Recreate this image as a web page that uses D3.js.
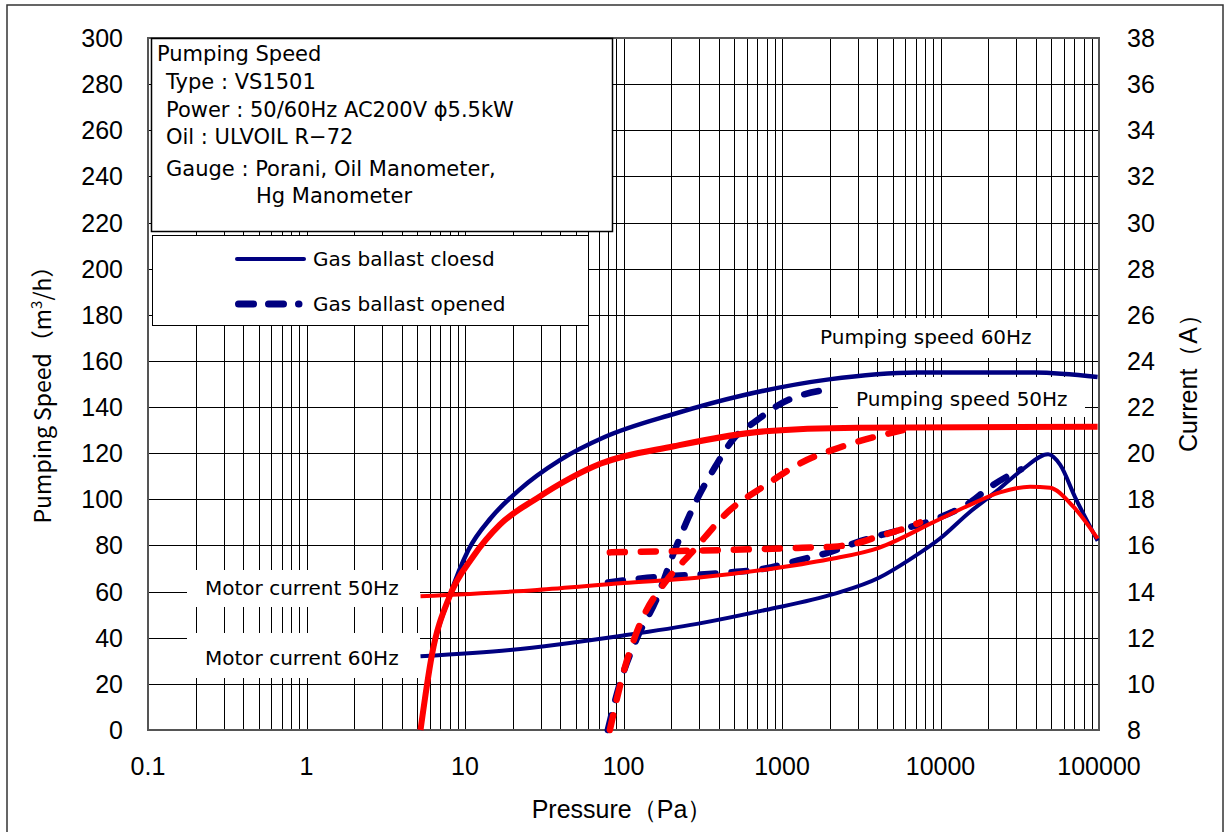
<!DOCTYPE html>
<html lang="en">
<head>
  <meta charset="UTF-8">
  <title>VS1501 Pumping Speed</title>
  <style>
    body { margin: 0; background: #fff; }
    svg { display: block; }
    .tick { font-family: "Liberation Sans", Arial, sans-serif; font-size: 25px; fill: #000; }
    .jp { font-family: "Noto Sans CJK JP", "Noto Sans", sans-serif; fill: #000; }
    .lbl { font-family: "DejaVu Sans", sans-serif; fill: #000; }
  </style>
</head>
<body>
  <script src="https://cdnjs.cloudflare.com/ajax/libs/d3/7.8.5/d3.min.js"></script>
  <svg></svg>
  <script>
    var width = 1229, height = 832;
    var plot = {left: 148, right: 1099, top: 38, bottom: 730};

    // tick labels
    var pressureTicks = [0.1, 1, 10, 100, 1000, 10000, 100000];
    var speedTicks = d3.range(0, 301, 20);
    var currentTicks = d3.range(8, 39, 2);

    // [pressure Pa, pumping speed m3/h]
    var speed60Closed = [[5.24, 0], [6.2, 33], [8.0, 58], [10.5, 78], [14.6, 92], [21.9, 104], [39.7, 117],
      [76, 127], [208, 137], [560, 145], [1980, 152], [7000, 155], [39400, 155], [98000, 153]];
    var speed50Closed = [[5.24, 0], [6.2, 33], [8.0, 58], [11.2, 75], [16.6, 89], [28.5, 100.5], [72, 115.5],
      [208, 123], [782, 129.5], [2970, 131], [98000, 131.5]];
    var speed60Opened = [[79.6, 0], [93.8, 19], [122, 40], [160, 56], [208, 77], [291, 100], [378, 114],
      [491, 126], [686, 134], [957, 141], [2100, 148]];
    var speed50Opened = [[82, 0], [100, 25], [131, 48], [183, 64], [270, 77], [463, 95], [782, 106],
      [1337, 116], [2430, 123], [5800, 130]];

    // [pressure Pa, motor current A]
    var current60Closed = [[5.24, 11.2], [19.2, 11.47], [100, 12.1], [291, 12.6], [782, 13.2], [2130, 13.9],
      [4090, 14.6], [6420, 15.4], [9930, 16.3], [15000, 17.4], [23000, 18.4], [33000, 19.3], [47700, 19.95],
      [56800, 19.5], [70600, 18.1], [98000, 16.2]];
    var current50Closed = [[5.24, 13.8], [28.5, 14.07], [100, 14.37], [291, 14.6], [782, 14.95], [1980, 15.4],
      [4090, 15.9], [8970, 17.0], [14700, 17.7], [23700, 18.3], [36700, 18.55], [49100, 18.5], [68500, 17.7],
      [98000, 16.3]];
    var current60Opened = [[79.8, 14.4], [141, 14.6], [406, 14.8], [782, 15.0], [1337, 15.4], [1980, 15.7],
      [3150, 16.2], [5710, 16.7], [9790, 17.2], [15600, 17.9], [20200, 18.5], [28200, 19.1], [32200, 19.3]];
    var current50Opened = [[82, 15.7], [406, 15.8], [1337, 15.9], [2130, 15.95], [2970, 16.1], [4090, 16.4],
      [5710, 16.7], [7430, 17.0]];

    var navy = '#000080', red = '#ff0000';

    var svg = d3.select('svg').attr('width', width).attr('height', height);

    // outer frame
    svg.append('rect')
      .attr('x', 7).attr('y', 5).attr('width', 1216).attr('height', 840)
      .attr('fill', 'none').attr('stroke', '#333').attr('stroke-width', 1.5);

    var x = d3.scaleLog().domain([0.1, 100000]).range([plot.left, plot.right]);
    var yS = d3.scaleLinear().domain([0, 300]).range([plot.bottom, plot.top]);
    var yC = d3.scaleLinear().domain([8, 38]).range([plot.bottom, plot.top]);

    // grid
    var grid = svg.append('g').attr('stroke', '#000').attr('stroke-width', 1).attr('shape-rendering', 'crispEdges');
    var vLines = [];
    pressureTicks.forEach(function(d) {
      vLines.push(d);
      if (d < 100000) for (var k = 2; k <= 9; k++) vLines.push(d * k);
    });
    grid.selectAll('line.v').data(vLines).enter().append('line')
      .attr('x1', function(d) { return Math.round(x(d)) + 0.5; })
      .attr('x2', function(d) { return Math.round(x(d)) + 0.5; })
      .attr('y1', plot.top).attr('y2', plot.bottom);
    grid.selectAll('line.h').data(speedTicks).enter().append('line')
      .attr('x1', plot.left).attr('x2', plot.right)
      .attr('y1', function(d) { return Math.round(yS(d)) + 0.5; })
      .attr('y2', function(d) { return Math.round(yS(d)) + 0.5; });

    svg.append('rect')
      .attr('x', plot.left).attr('y', plot.top)
      .attr('width', plot.right - plot.left).attr('height', plot.bottom - plot.top)
      .attr('fill', 'none').attr('stroke', '#555').attr('stroke-width', 2);

    // axis labels
    svg.append('g').selectAll('text').data(speedTicks).enter().append('text')
      .attr('class', 'tick').attr('x', 123).attr('y', function(d) { return yS(d) + 9; })
      .attr('text-anchor', 'end').text(function(d) { return d; });
    svg.append('g').selectAll('text').data(currentTicks).enter().append('text')
      .attr('class', 'tick').attr('x', 1127).attr('y', function(d) { return yC(d) + 9; })
      .text(function(d) { return d; });
    svg.append('g').selectAll('text').data(pressureTicks).enter().append('text')
      .attr('class', 'tick').attr('x', function(d) { return x(d); }).attr('y', 775)
      .attr('text-anchor', 'middle').text(function(d) { return d; });

    svg.append('text').attr('class', 'tick').attr('x', 622).attr('y', 818)
      .attr('text-anchor', 'middle').text('Pressure（Pa）');
    svg.append('text').attr('class', 'tick')
      .attr('transform', 'translate(1197,377) rotate(-90)')
      .attr('text-anchor', 'middle').text('Current（A）');
    var lt = svg.append('text').attr('class', 'jp').style('font-size', '23px')
      .attr('transform', 'translate(51,389) rotate(-90)')
      .attr('text-anchor', 'middle');
    lt.append('tspan').text('Pumping Speed（m');
    lt.append('tspan').attr('dy', -9).style('font-size', '15px').text('3');
    lt.append('tspan').attr('dy', 9).text('/h）');

    // white label boxes behind curve labels
    var boxes = [[187, 570, 233, 37], [187, 633, 233, 45], [795, 318, 250, 40], [838, 377, 247, 40]];
    svg.append('g').selectAll('rect').data(boxes).enter().append('rect')
      .attr('x', function(d) { return d[0]; }).attr('y', function(d) { return d[1]; })
      .attr('width', function(d) { return d[2]; }).attr('height', function(d) { return d[3]; })
      .attr('fill', '#fff');

    // info box and legend
    svg.append('rect').attr('x', 151.5).attr('y', 38.5).attr('width', 461).attr('height', 193)
      .attr('fill', '#fff').attr('stroke', '#000').attr('stroke-width', 1.5);
    svg.append('rect').attr('x', 152.5).attr('y', 235.5).attr('width', 436).attr('height', 90)
      .attr('fill', '#fff').attr('stroke', '#000').attr('stroke-width', 1);

    var info = [['Pumping Speed', 157, 61], ['Type : VS1501', 166, 89], ['Power : 50/60Hz AC200V ϕ5.5kW', 166, 117],
      ['Oil : ULVOIL R−72', 166, 144], ['Gauge : Porani, Oil Manometer,', 166, 176], ['Hg Manometer', 256, 203]];
    svg.append('g').selectAll('text').data(info).enter().append('text')
      .attr('class', 'lbl').style('font-size', '21px')
      .attr('x', function(d) { return d[1]; }).attr('y', function(d) { return d[2]; })
      .text(function(d) { return d[0]; });

    svg.append('line').attr('x1', 237).attr('x2', 304).attr('y1', 259).attr('y2', 259)
      .attr('stroke', navy).attr('stroke-width', 4).attr('stroke-linecap', 'round');
    svg.append('line').attr('x1', 238.5).attr('x2', 299).attr('y1', 304).attr('y2', 304)
      .attr('stroke', navy).attr('stroke-width', 7).attr('stroke-linecap', 'round')
      .attr('stroke-dasharray', '15,15');
    svg.append('text').attr('class', 'lbl').style('font-size', '20px').attr('x', 313).attr('y', 266).text('Gas ballast cloesd');
    svg.append('text').attr('class', 'lbl').style('font-size', '20px').attr('x', 313).attr('y', 311).text('Gas ballast opened');

    // curve labels
    var labels = [['Pumping speed 60Hz', 820, 344], ['Pumping speed 50Hz', 856, 406],
      ['Motor current 50Hz', 205, 595], ['Motor current 60Hz', 205, 665]];
    svg.append('g').selectAll('text').data(labels).enter().append('text')
      .attr('class', 'lbl').style('font-size', '20px')
      .attr('x', function(d) { return d[1]; }).attr('y', function(d) { return d[2]; })
      .text(function(d) { return d[0]; });

    // curves
    var lineS = d3.line().x(function(d) { return x(d[0]); }).y(function(d) { return yS(d[1]); }).curve(d3.curveMonotoneX);
    var lineC = d3.line().x(function(d) { return x(d[0]); }).y(function(d) { return yC(d[1]); }).curve(d3.curveMonotoneX);

    var series = [
      {data: speed60Closed, line: lineS, color: navy, w: 4.5, dash: null},
      {data: current60Closed, line: lineC, color: navy, w: 4, dash: null},
      {data: speed60Opened, line: lineS, color: navy, w: 6.5, dash: '15,16'},
      {data: current60Opened, line: lineC, color: navy, w: 6.5, dash: '15,16'},
      {data: speed50Closed, line: lineS, color: red, w: 6, dash: null},
      {data: current50Closed, line: lineC, color: red, w: 4, dash: null},
      {data: speed50Opened, line: lineS, color: red, w: 6.5, dash: '15,16'},
      {data: current50Opened, line: lineC, color: red, w: 6.5, dash: '15,16'}
    ];
    svg.append('g').selectAll('path').data(series).enter().append('path')
      .attr('d', function(d) { return d.line(d.data); })
      .attr('fill', 'none')
      .attr('stroke', function(d) { return d.color; })
      .attr('stroke-width', function(d) { return d.w; })
      .attr('stroke-dasharray', function(d) { return d.dash; })
      .attr('stroke-linecap', function(d) { return d.dash ? 'round' : 'butt'; })
      .attr('stroke-linejoin', 'round');
  </script>
</body>
</html>
